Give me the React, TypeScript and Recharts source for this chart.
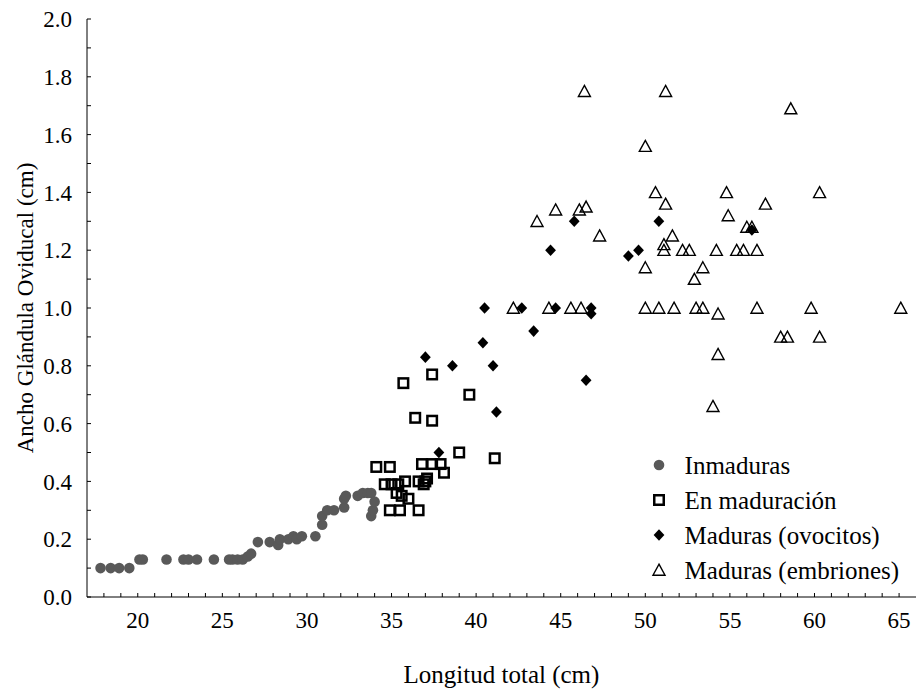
import { ScatterChart, Scatter, XAxis, YAxis, Legend, Label } from 'recharts';

const FONT = 'Liberation Serif';

const seriesNames = ['Inmaduras', 'En maduración', 'Maduras (ovocitos)', 'Maduras (embriones)'];

const xTicks = [18, 19, 20, 21, 22, 23, 24, 25, 26, 27, 28, 29, 30, 31, 32, 33, 34, 35, 36, 37, 38, 39, 40, 41,
  42, 43, 44, 45, 46, 47, 48, 49, 50, 51, 52, 53, 54, 55, 56, 57, 58, 59, 60, 61, 62, 63, 64, 65];
const yTicks = [0, 0.1, 0.2, 0.3, 0.4, 0.5, 0.6, 0.7, 0.8, 0.9, 1.0, 1.1, 1.2, 1.3, 1.4, 1.5, 1.6, 1.7, 1.8, 1.9, 2.0];

// [longitud total, ancho glándula]
const inmaduras: [number, number][] = [
  [17.8, 0.10], [18.4, 0.10], [18.9, 0.10], [19.5, 0.10], [20.1, 0.13], [20.3, 0.13], [21.7, 0.13],
  [22.7, 0.13], [23.0, 0.13], [23.5, 0.13], [24.5, 0.13], [25.4, 0.13], [25.6, 0.13], [25.9, 0.13],
  [26.2, 0.13], [26.5, 0.14], [26.7, 0.15], [27.1, 0.19], [27.8, 0.19], [28.3, 0.18], [28.4, 0.20],
  [28.9, 0.20], [29.2, 0.21], [29.4, 0.20], [29.7, 0.21], [30.5, 0.21], [30.9, 0.25], [30.9, 0.28],
  [31.2, 0.30], [31.6, 0.30], [32.2, 0.31], [32.2, 0.34], [32.3, 0.35], [33.0, 0.35], [33.3, 0.36],
  [33.6, 0.36], [33.8, 0.36], [33.8, 0.28], [33.9, 0.30], [34.0, 0.33],
];

const enMaduracion: [number, number][] = [
  [34.1, 0.45], [34.9, 0.45], [34.6, 0.39], [35.0, 0.39], [35.4, 0.39], [35.8, 0.40], [36.6, 0.40],
  [37.0, 0.40], [37.1, 0.41], [36.9, 0.39], [35.3, 0.36], [35.6, 0.35], [36.0, 0.34], [34.9, 0.30],
  [35.5, 0.30], [36.6, 0.30], [36.8, 0.46], [37.4, 0.46], [37.9, 0.46], [38.1, 0.43], [39.0, 0.50],
  [41.1, 0.48], [36.4, 0.62], [37.4, 0.61], [35.7, 0.74], [37.4, 0.77], [39.6, 0.70],
];

const ovocitos: [number, number][] = [
  [37.0, 0.83], [37.8, 0.50], [38.6, 0.80], [40.4, 0.88], [40.5, 1.00], [41.0, 0.80], [41.2, 0.64],
  [42.7, 1.00], [43.4, 0.92], [44.4, 1.20], [44.7, 1.00], [45.8, 1.30], [46.5, 0.75], [46.8, 1.00],
  [46.8, 0.98], [49.0, 1.18], [49.6, 1.20], [50.8, 1.30], [56.3, 1.27],
];

const embriones: [number, number][] = [
  [42.2, 1.00], [43.6, 1.30], [44.3, 1.00], [44.7, 1.34], [45.6, 1.00], [46.1, 1.34], [46.2, 1.00],
  [46.4, 1.75], [46.5, 1.35], [47.3, 1.25], [50.0, 1.56], [50.0, 1.14], [50.0, 1.00], [50.6, 1.40],
  [50.8, 1.00], [51.1, 1.22], [51.1, 1.20], [51.2, 1.75], [51.2, 1.36], [51.6, 1.25], [51.7, 1.00],
  [52.2, 1.20], [52.6, 1.20], [52.9, 1.10], [53.0, 1.00], [53.4, 1.14], [53.4, 1.00], [54.0, 0.66],
  [54.2, 1.20], [54.3, 0.98], [54.3, 0.84], [54.8, 1.40], [54.9, 1.32], [55.4, 1.20], [55.8, 1.20],
  [56.0, 1.28], [56.3, 1.28], [56.6, 1.20], [56.6, 1.00], [57.1, 1.36], [58.0, 0.90], [58.4, 0.90],
  [58.6, 1.69], [59.8, 1.00], [60.3, 1.40], [60.3, 0.90], [65.1, 1.00],
];

const toPoints = (arr: [number, number][]) => arr.map(([x, y]) => ({ x, y }));

const GrayDot = (p: any) => <circle cx={p.cx} cy={p.cy} r={5.3} fill="#595959" />;
const OpenSquare = (p: any) => (
  <rect x={p.cx - 4.75} y={p.cy - 4.75} width={9.5} height={9.5} fill="none" stroke="#000" strokeWidth={2.5} />
);
const Diamond = (p: any) => (
  <path d={`M${p.cx},${p.cy - 5.8}L${p.cx + 5.4},${p.cy}L${p.cx},${p.cy + 5.8}L${p.cx - 5.4},${p.cy}Z`} fill="#000" />
);
const OpenTriangle = (p: any) => (
  <path d={`M${p.cx},${p.cy - 5.8}L${p.cx + 6},${p.cy + 5.2}L${p.cx - 6},${p.cy + 5.2}Z`}
    fill="none" stroke="#000" strokeWidth={1.4} strokeLinejoin="miter" />
);

const iconFor = (type: string) => {
  const p = { cx: 10, cy: 10 };
  if (type === 'circle') return <GrayDot {...p} />;
  if (type === 'square') return <OpenSquare {...p} />;
  if (type === 'diamond') return <Diamond {...p} />;
  return <OpenTriangle {...p} />;
};

const renderLegend = (props: any) => {
  // keep the series order of the original figure
  const items = [...(props.payload || [])].sort(
    (a: any, b: any) => seriesNames.indexOf(a.value) - seriesNames.indexOf(b.value),
  );
  return (
    <div style={{ fontFamily: FONT, fontSize: 25, color: '#000' }}>
      {items.map((entry: any, i: number) => (
        <div key={i} style={{ display: 'flex', alignItems: 'center', height: 35, lineHeight: '35px', whiteSpace: 'nowrap' }}>
          <svg width={20} height={20} style={{ marginRight: 16, flexShrink: 0 }}>{iconFor(entry.type)}</svg>
          <span>{entry.value}</span>
        </div>
      ))}
    </div>
  );
};

const XTitle = (props: any) => {
  const vb = props.viewBox;
  return (
    <text x={vb.x + vb.width / 2} y={vb.y + 86} textAnchor="middle" fontFamily={FONT} fontSize={25} fill="#000">
      Longitud total (cm)
    </text>
  );
};

const YTitle = (props: any) => {
  const vb = props.viewBox;
  const x = vb.x + 33;
  const y = vb.y + vb.height / 2;
  return (
    <text x={x} y={y} transform={`rotate(-90 ${x} ${y})`} textAnchor="middle" fontFamily={FONT} fontSize={23} fill="#000">
      Ancho Glándula Oviducal (cm)
    </text>
  );
};

const tickStyle = { fill: '#000', fontSize: 23, fontFamily: FONT };
const line = { stroke: '#000', strokeWidth: 1 };

export default function App() {
  return (
    <div style={{ position: 'absolute', left: 0, top: 0, width: 916, height: 692, background: '#fff', fontFamily: FONT }}>
      <ScatterChart width={916} height={692} margin={{ top: 19, right: 0, bottom: 0, left: 0 }}>
        <XAxis xAxisId="top" orientation="top" type="number" domain={[17, 66]} ticks={xTicks} interval={0}
          tick={false} tickSize={-4} height={0} axisLine={line} tickLine={line} allowDataOverflow />
        <YAxis yAxisId="right" orientation="right" type="number" domain={[0, 2]} ticks={yTicks} interval={0}
          tick={false} tickSize={-4} width={0} axisLine={line} tickLine={line} allowDataOverflow />
        <XAxis dataKey="x" type="number" domain={[17, 66]} ticks={xTicks} interval={0} allowDataOverflow
          tickFormatter={(v: number) => (v % 5 === 0 ? String(v) : '')}
          tickSize={-4} tickMargin={19} height={95} tick={tickStyle} axisLine={line} tickLine={line}>
          <Label content={XTitle} />
        </XAxis>
        <YAxis dataKey="y" type="number" domain={[0, 2]} ticks={yTicks} interval={0} allowDataOverflow
          tickFormatter={(v: number) => (Math.round(v * 10) % 2 === 0 ? v.toFixed(1) : '')}
          width={87} tickSize={-4} tickMargin={19} tick={tickStyle} axisLine={line} tickLine={line}>
          <Label content={YTitle} />
        </YAxis>
        <Scatter name={seriesNames[0]} data={toPoints(inmaduras)} shape={GrayDot} legendType="circle" fill="#595959" isAnimationActive={false} />
        <Scatter name={seriesNames[1]} data={toPoints(enMaduracion)} shape={OpenSquare} legendType="square" fill="#000" isAnimationActive={false} />
        <Scatter name={seriesNames[2]} data={toPoints(ovocitos)} shape={Diamond} legendType="diamond" fill="#000" isAnimationActive={false} />
        <Scatter name={seriesNames[3]} data={toPoints(embriones)} shape={OpenTriangle} legendType="triangle" fill="#000" isAnimationActive={false} />
        <Legend layout="vertical" align="center" verticalAlign="middle" content={renderLegend}
          wrapperStyle={{ left: 648.6, top: 447.5, width: 'auto', height: 'auto' }} />
      </ScatterChart>
    </div>
  );
}
